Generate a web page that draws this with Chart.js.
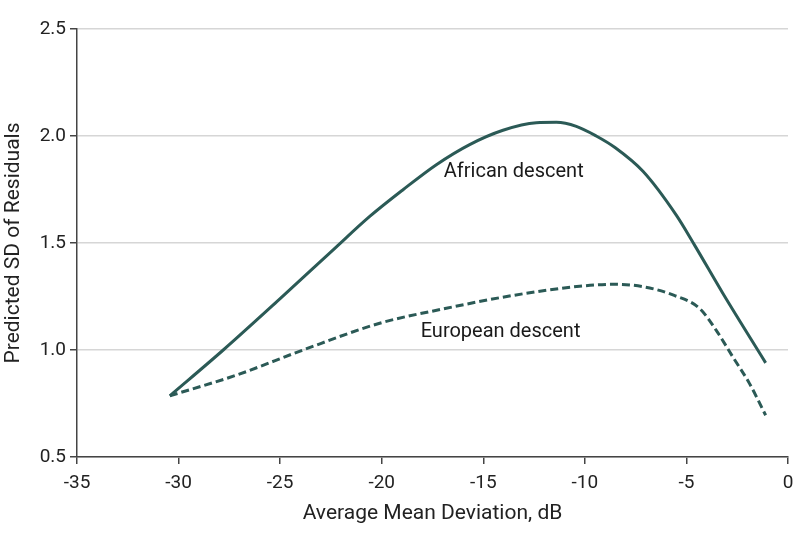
<!DOCTYPE html>
<html>
<head>
<meta charset="utf-8">
<script src="https://cdn.jsdelivr.net/npm/chart.js@4/dist/chart.umd.min.js"></script>
<style>
  html, body { margin: 0; padding: 0; background: #fff; }
  #wrap { width: 794px; height: 542px; position: relative; }
</style>
</head>
<body>
<div id="wrap"><canvas id="c" width="794" height="542"></canvas></div>
<script>
// ---- Data ----
const africanX = [-30.43, -27.8, -25.0, -22.39, -20.59, -18.95, -17.31, -15.67, -14.03, -12.39, -11.4, -10.42, -9.44, -8.5, -7.14, -5.5, -4.6, -3.21, -1.1];
const africanY = [0.786, 1.0, 1.24, 1.468, 1.624, 1.749, 1.866, 1.960, 2.027, 2.062, 2.064, 2.045, 2.0, 1.945, 1.835, 1.63, 1.49, 1.265, 0.94];

const europeanX = [-30.43, -27.14, -23.87, -20.1, -16.82, -13.54, -10.26, -8.62, -7.14, -5.6, -4.36, -3.54, -2.72, -1.9, -1.1];
const europeanY = [0.786, 0.883, 1.0, 1.125, 1.195, 1.255, 1.298, 1.307, 1.296, 1.255, 1.195, 1.093, 0.968, 0.844, 0.695];

const xTicks = [-35, -30, -25, -20, -15, -10, -5, 0];
const yTicks = [0.5, 1.0, 1.5, 2.0, 2.5];

const seriesLabels = ['African descent', 'European descent'];
const labelX = [-13.5, -14.15];
const labelY = [1.83, 1.085];

const xTitle = 'Average Mean Deviation, dB';
const yTitle = 'Predicted SD of Residuals';

// ---- Chart ----
const lineColor = '#2b5a56';
const fontFamily = 'Roboto, "Open Sans", sans-serif';
const toPts = (xs, ys) => xs.map((x, i) => ({ x: x, y: ys[i] }));

const labelPlugin = {
  id: 'curveLabels',
  afterDatasetsDraw(chart) {
    const { ctx, scales } = chart;
    ctx.save();
    ctx.font = '20px ' + fontFamily;
    ctx.fillStyle = '#1a1a1a';
    ctx.textAlign = 'center';
    ctx.textBaseline = 'middle';
    seriesLabels.forEach((t, i) => {
      ctx.fillText(t, scales.x.getPixelForValue(labelX[i]), scales.y.getPixelForValue(labelY[i]));
    });
    ctx.restore();
  }
};

new Chart(document.getElementById('c'), {
  type: 'line',
  data: {
    datasets: [
      {
        label: seriesLabels[0],
        data: toPts(africanX, africanY),
        borderColor: lineColor,
        borderWidth: 3,
        pointRadius: 0,
        cubicInterpolationMode: 'monotone',
        fill: false
      },
      {
        label: seriesLabels[1],
        data: toPts(europeanX, europeanY),
        borderColor: lineColor,
        borderWidth: 3,
        borderDash: [8, 4],
        pointRadius: 0,
        cubicInterpolationMode: 'monotone',
        fill: false
      }
    ]
  },
  options: {
    responsive: false,
    animation: false,
    devicePixelRatio: 1,
    layout: { padding: { top: 29, right: 0, left: 0, bottom: 0 } },
    plugins: { legend: { display: false }, tooltip: { enabled: false } },
    scales: {
      x: {
        type: 'linear',
        min: xTicks[0],
        max: xTicks[xTicks.length - 1],
        afterBuildTicks: s => { s.ticks = xTicks.map(v => ({ value: v })); },
        afterFit: s => { s.height = 85; s.paddingRight = 6; },
        border: { color: '#444', width: 1.5 },
        grid: { drawOnChartArea: false, drawTicks: true, tickLength: 7, tickColor: '#444', lineWidth: 1.5 },
        ticks: { color: '#222', font: { family: fontFamily, size: 19 }, padding: 8, maxRotation: 0 },
        title: { display: true, text: xTitle, color: '#222', font: { family: fontFamily, size: 21 }, padding: { top: 0, bottom: 16 } }
      },
      y: {
        type: 'linear',
        min: yTicks[0],
        max: yTicks[yTicks.length - 1],
        afterBuildTicks: s => { s.ticks = yTicks.map(v => ({ value: v })); },
        afterFit: s => { s.width = 77; },
        border: { color: '#444', width: 1.5 },
        grid: { color: '#d6d6d6', lineWidth: 1.5, drawTicks: true, tickLength: 7, tickColor: '#444' },
        ticks: { color: '#222', font: { family: fontFamily, size: 19 }, padding: 4, callback: v => Number(v).toFixed(1) },
        title: { display: true, text: yTitle, color: '#222', font: { family: fontFamily, size: 21 }, padding: { top: 1, bottom: 0 } }
      }
    }
  },
  plugins: [labelPlugin]
});
</script>
</body>
</html>
